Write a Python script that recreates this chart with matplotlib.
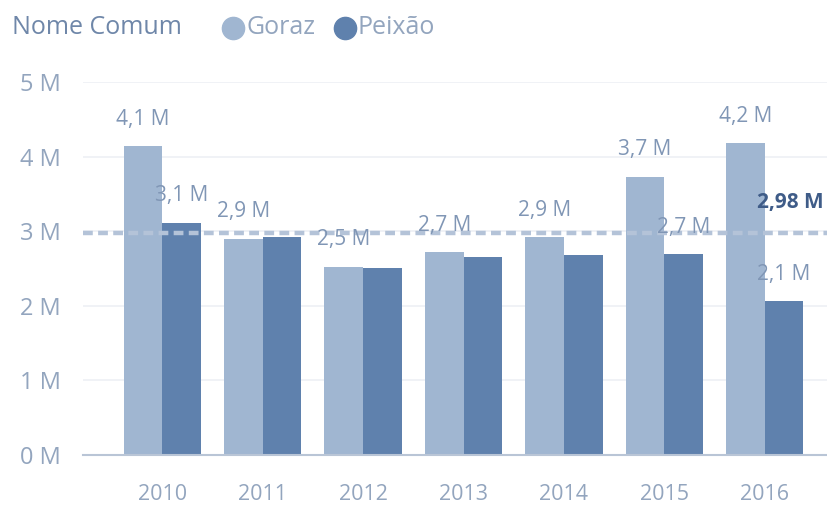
import matplotlib.pyplot as plt
from matplotlib.lines import Line2D
import numpy as np

# data
years = ['2010', '2011', '2012', '2013', '2014', '2015', '2016']
goraz = [4.14, 2.90, 2.52, 2.72, 2.92, 3.73, 4.18]
peixao = [3.11, 2.92, 2.51, 2.65, 2.68, 2.69, 2.06]
goraz_labels = ['4,1 M', '2,9 M', '2,5 M', '2,7 M', '2,9 M', '3,7 M', '4,2 M']
peixao_labels = ['3,1 M', None, None, None, None, '2,7 M', '2,1 M']
average = 2.98
y_ticks = [0, 1, 2, 3, 4, 5]

c_goraz = '#a0b6d1'
c_peixao = '#5f81ad'
c_text = '#93a5be'
c_label = '#8096b5'

plt.rcParams['font.family'] = ['Open Sans', 'DejaVu Sans']

fig = plt.figure(figsize=(8.27, 5.07), dpi=100)
ax = fig.add_axes([83 / 827, 1 - 455 / 507, 1 - 83 / 827, (455 - 82) / 507])

x = np.arange(len(years))
w = 0.385
ax.bar(x - w / 2, goraz, w, color=c_goraz, zorder=2)
ax.bar(x + w / 2, peixao, w, color=c_peixao, zorder=2)

for i, t in enumerate(goraz_labels):
    ax.annotate(t, (x[i] - w / 2, goraz[i]), xytext=(0, 19.5), textcoords='offset points',
                ha='center', va='center', fontsize=15, color=c_label, zorder=4)
for i, t in enumerate(peixao_labels):
    if t:
        ax.annotate(t, (x[i] + w / 2, peixao[i]), xytext=(0, 19.5), textcoords='offset points',
                    ha='center', va='center', fontsize=15, color=c_label, zorder=4)

# average line
ax.axhline(average, color='#b4c3d8', lw=3.2, ls=(0, (2.2, 1.2)), zorder=3)
ax.text(5.92, average + 0.40, '2,98 M', fontsize=15, color='#3f5c88', fontweight='bold',
        ha='left', va='center', clip_on=False)

ax.set_xlim(-0.79, 6.62)
ax.set_ylim(0, 5)
ax.set_yticks(y_ticks)
ax.set_yticklabels([f'{v} M' for v in y_ticks])
ax.set_xticks(x)
ax.set_xticklabels(years)
ax.tick_params(axis='y', length=0, pad=16, labelsize=17, labelcolor=c_text)
ax.tick_params(axis='x', length=0, pad=21, labelsize=15.5, labelcolor=c_text)
ax.yaxis.grid(True, color='#edf0f5', lw=1.2, zorder=0)
ax.set_axisbelow(True)
for s in ['top', 'right', 'left']:
    ax.spines[s].set_visible(False)
ax.spines['bottom'].set_color('#b9c5d6')
ax.spines['bottom'].set_linewidth(1.5)
ax.spines['bottom'].set_zorder(5)

# legend header
ly = 1 - 28 / 507
fig.text(12 / 827, ly, 'Nome Comum', fontsize=18, color='#6f87a9', va='center')
fig.add_artist(Line2D([233 / 827], [ly], marker='o', markersize=16, color=c_goraz,
                      transform=fig.transFigure))
fig.text(247 / 827, ly, 'Goraz', fontsize=18, color=c_text, va='center')
fig.add_artist(Line2D([345 / 827], [ly], marker='o', markersize=16, color=c_peixao,
                      transform=fig.transFigure))
fig.text(358 / 827, ly, 'Peixão', fontsize=18, color=c_text, va='center')

fig.savefig('out.png', dpi=100)
